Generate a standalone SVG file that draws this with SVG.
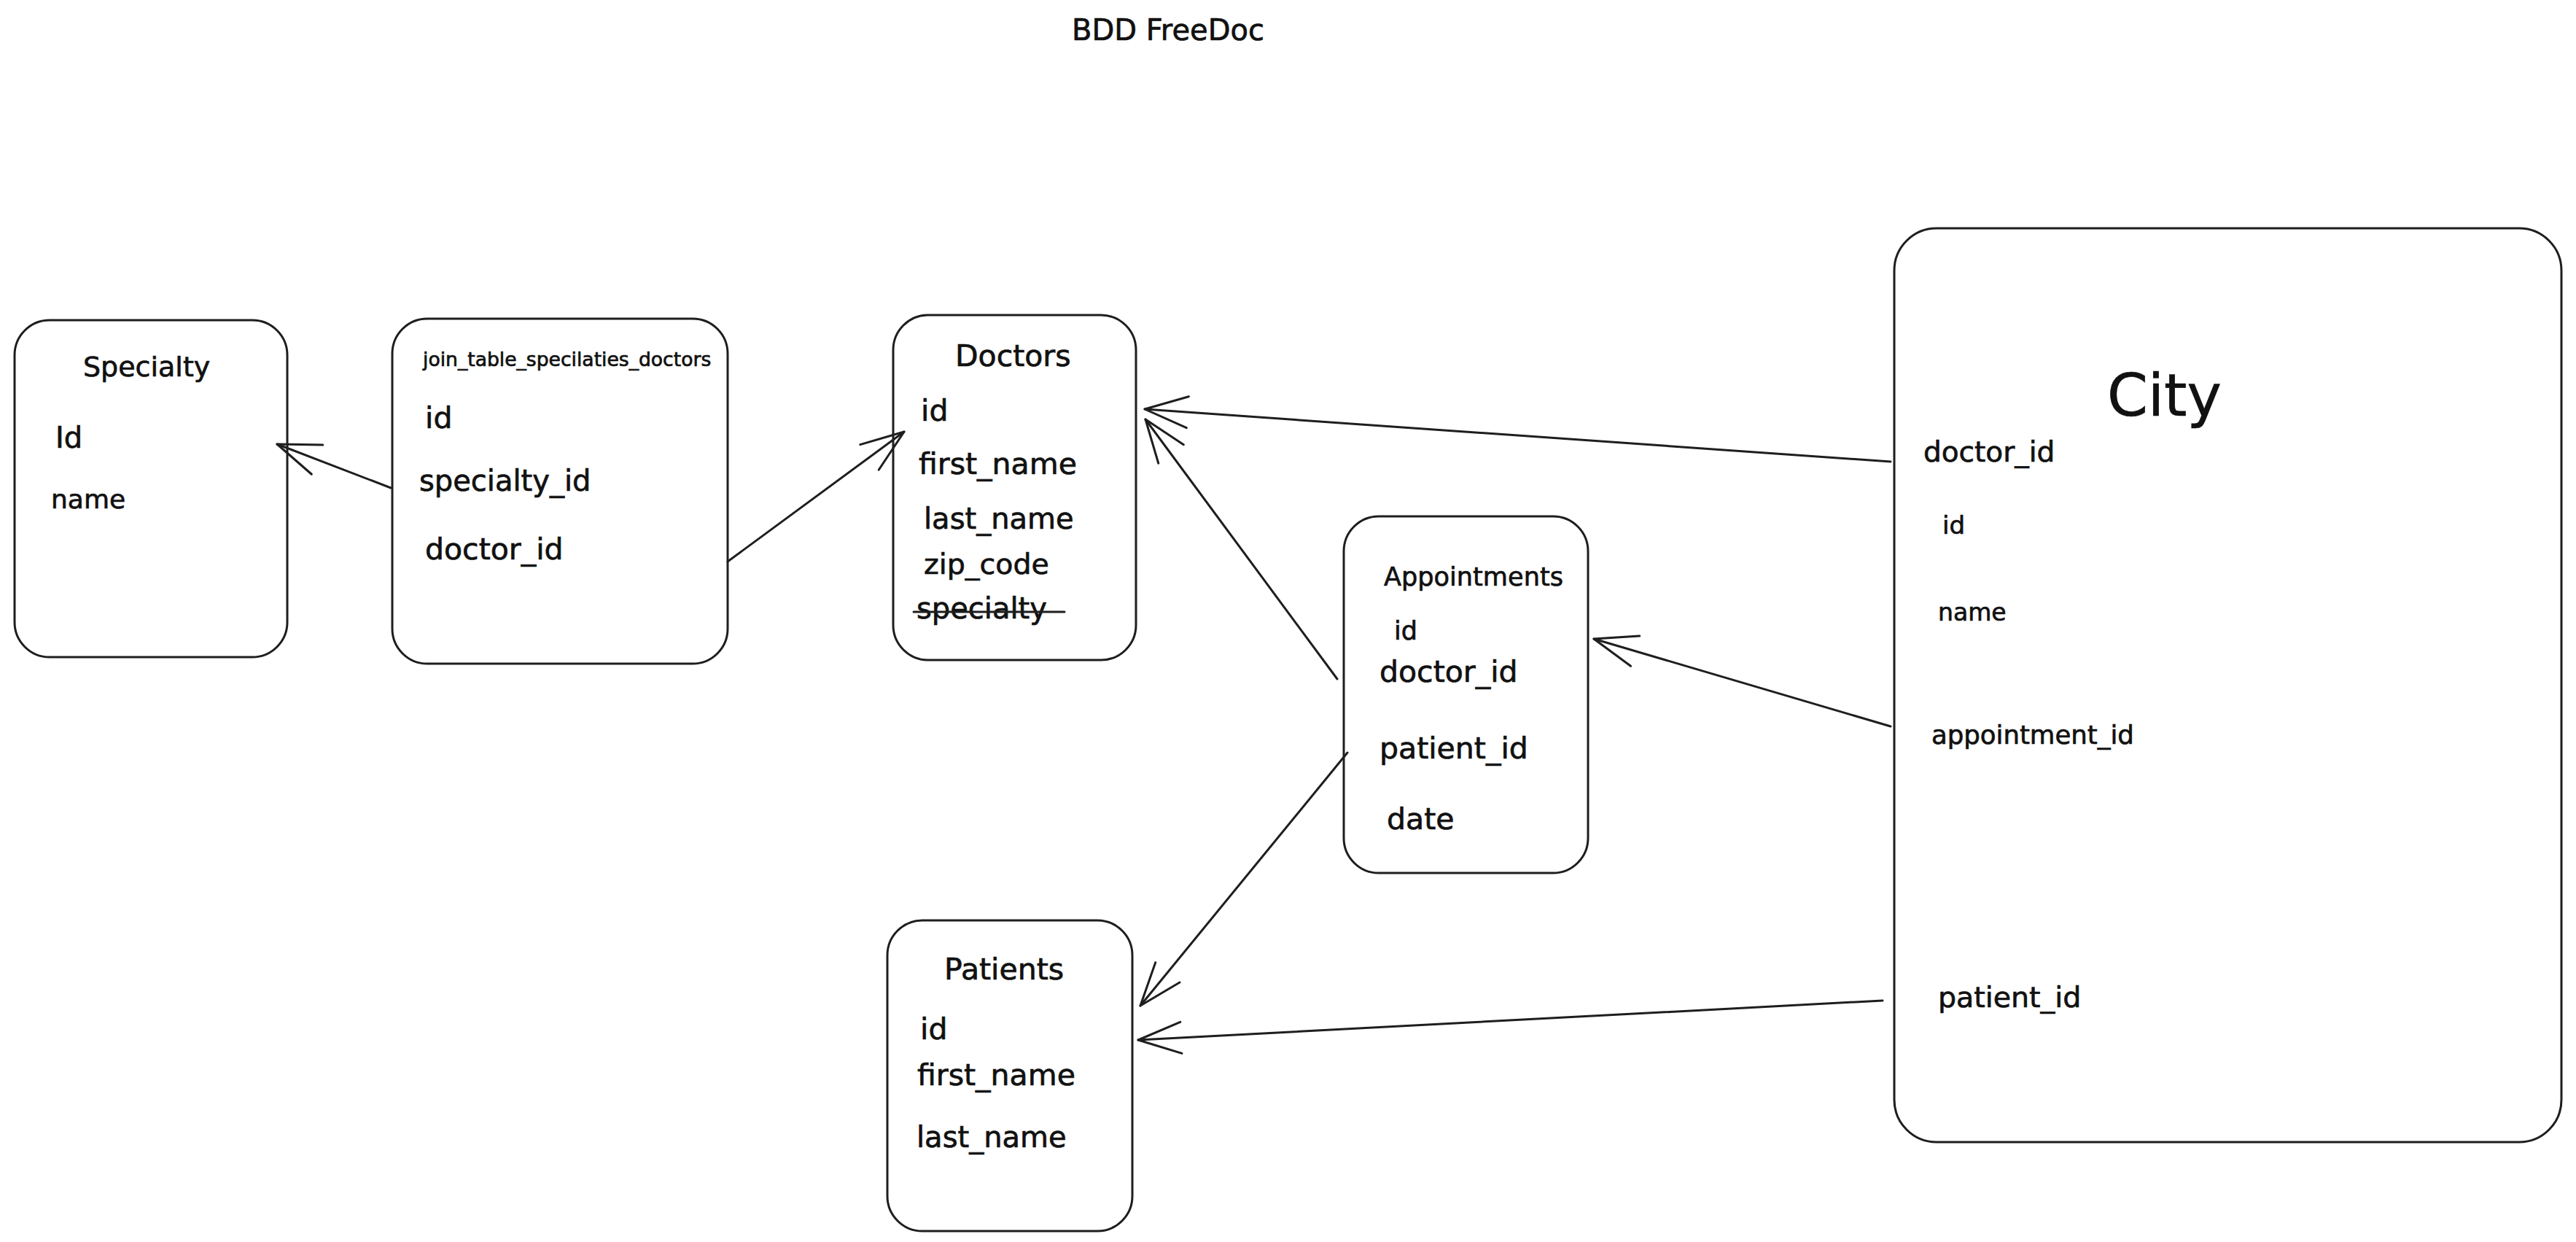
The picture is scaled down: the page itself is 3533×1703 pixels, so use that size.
<svg xmlns="http://www.w3.org/2000/svg" width="3533" height="1703" viewBox="0 0 3533 1703">
<style>
.box{fill:#ffffff;stroke:#1e1e1e;stroke-width:3}
text{font-family:"DejaVu Sans","Liberation Sans",sans-serif;fill:#111111;stroke:#111111;stroke-width:0.7px}
.f{font-size:41px}
.c{fill:none;stroke:#1e1e1e;stroke-width:3;stroke-linecap:round}
.strike{stroke:#1e1e1e;stroke-width:3;stroke-linecap:round}
</style>
<defs>
<marker id="arr" viewBox="-66 -26 72 52" refX="0" refY="0" markerWidth="72" markerHeight="52" markerUnits="userSpaceOnUse" orient="auto">
<path d="M-59,-21.5 L0,0 L-59,21.5" fill="none" stroke="#1e1e1e" stroke-width="3" stroke-linecap="round" stroke-linejoin="round"/>
</marker>
</defs>
<rect width="3533" height="1703" fill="#ffffff"/>
<text id="title" x="1470" y="55" style="font-size:40px">BDD FreeDoc</text>

<g id="specialty">
<rect class="box" x="20" y="439" width="374" height="462" rx="48"/>
<text x="114" y="516" style="font-size:38px">Specialty</text>
<text x="76" y="614" style="font-size:40px">Id</text>
<text x="70" y="697" style="font-size:36px">name</text>
</g>

<g id="join_table">
<rect class="box" x="538" y="437" width="460" height="473" rx="48"/>
<text x="580" y="502" style="font-size:26.6px">join_table_specilaties_doctors</text>
<text class="f" x="583" y="587">id</text>
<text x="575" y="673" style="font-size:40px">specialty_id</text>
<text class="f" x="583" y="767">doctor_id</text>
</g>

<g id="doctors">
<rect class="box" x="1225" y="432" width="333" height="473" rx="48"/>
<text class="f" x="1310" y="502">Doctors</text>
<text class="f" x="1263" y="577">id</text>
<text class="f" x="1260" y="650">first_name</text>
<text x="1267" y="725" style="font-size:40px">last_name</text>
<text x="1267" y="787" style="font-size:39.5px">zip_code</text>
<text x="1257" y="848" style="font-size:40px">specialty</text>
<line class="strike" x1="1253" y1="839" x2="1460" y2="839"/>
</g>

<g id="appointments">
<rect class="box" x="1843" y="708" width="335" height="489" rx="48"/>
<text x="1898" y="803" style="font-size:35px" textLength="246" lengthAdjust="spacingAndGlyphs">Appointments</text>
<text x="1912" y="877" style="font-size:35px">id</text>
<text class="f" x="1892" y="935">doctor_id</text>
<text class="f" x="1892" y="1040">patient_id</text>
<text class="f" x="1902" y="1137">date</text>
</g>

<g id="patients">
<rect class="box" x="1217" y="1262" width="336" height="426" rx="48"/>
<text class="f" x="1295" y="1343">Patients</text>
<text class="f" x="1262" y="1425">id</text>
<text class="f" x="1258" y="1488">first_name</text>
<text x="1257" y="1573" style="font-size:40px">last_name</text>
</g>

<g id="city">
<rect class="box" x="2598" y="313" width="915" height="1253" rx="58"/>
<text x="2890" y="570" style="font-size:80px">City</text>
<text x="2638" y="633" style="font-size:39px">doctor_id</text>
<text x="2664" y="732" style="font-size:34px">id</text>
<text x="2658" y="851" style="font-size:33px">name</text>
<text x="2649" y="1020" style="font-size:35.5px">appointment_id</text>
<text x="2658" y="1381" style="font-size:39.5px">patient_id</text>
</g>

<g id="connectors">
<path class="c" d="M536,669 L380,609" marker-end="url(#arr)"/>
<path class="c" d="M998,770 L1240,592" marker-end="url(#arr)"/>
<path class="c" d="M2593,633 L1570,561" marker-end="url(#arr)"/>
<path class="c" d="M1834,931 L1571,575" marker-end="url(#arr)"/>
<path class="c" d="M2593,996 L2186,876" marker-end="url(#arr)"/>
<path class="c" d="M1848,1032 L1564,1379" marker-end="url(#arr)"/>
<path class="c" d="M2582,1372 L1561,1426" marker-end="url(#arr)"/>
</g>
</svg>
